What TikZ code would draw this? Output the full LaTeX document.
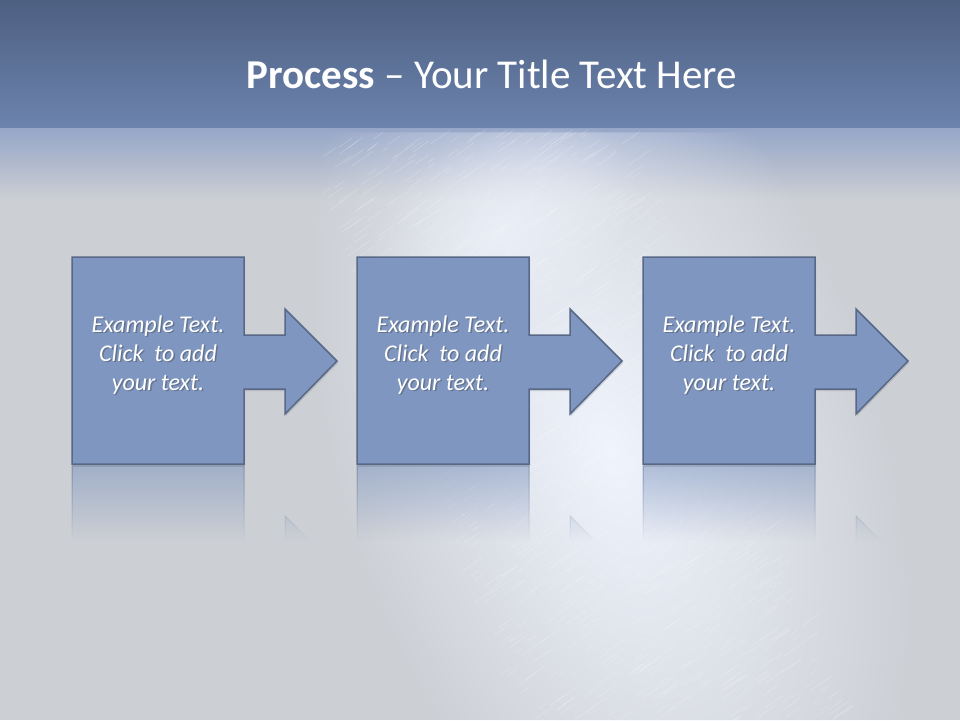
\documentclass[tikz,border=0pt]{standalone}
\usepackage{fontspec}
\setmainfont{Carlito}
\usetikzlibrary{shadows,fadings}

\definecolor{bandtop}{RGB}{78,96,130}
\definecolor{bandbot}{RGB}{108,131,173}
\definecolor{edgeblue}{RGB}{150,166,200}
\definecolor{floorgray}{RGB}{204,207,212}
\definecolor{sheen}{RGB}{240,244,253}
\definecolor{stepfill}{RGB}{127,150,192}
\definecolor{stepline}{RGB}{88,104,136}

\tikzfading[name=glow, inner color=transparent!0, outer color=transparent!100]
\tikzfading[name=reflectfade, top color=transparent!45, bottom color=transparent!100]

\tikzset{
  stepshape/.style={fill=stepfill, draw=stepline, line width=1.5pt,
    drop shadow={opacity=0.3, shadow xshift=1pt, shadow yshift=-2pt}},
  steptext/.style={text=white, align=center,
    font=\fontsize{24}{29}\selectfont\itshape},
  stepshade/.style={steptext, text=black!80, opacity=0.35},
  reflect/.style={fill=stepfill, draw=stepline, line width=1pt,
    path fading=reflectfade}
}

\begin{document}
\begin{tikzpicture}
\useasboundingbox (0,0) rectangle (960pt,-720pt);

  % backdrop
  \shade[top color=bandtop, bottom color=bandbot] (0,0) rectangle (960pt,-128pt);
  \fill[floorgray] (0,-128pt) rectangle (960pt,-720pt);
  \shade[top color=edgeblue, bottom color=floorgray] (0,-128pt) rectangle (960pt,-200pt);
  \fill[sheen, path fading=glow, fit fading=false,
        fading transform={shift={(610pt,-450pt)}, rotate=18, xscale=11, yscale=20}]
    (0,-128pt) rectangle (960pt,-720pt);
  \fill[sheen, opacity=0.7, path fading=glow, fit fading=false,
        fading transform={shift={(500pt,-230pt)}, rotate=30, xscale=6, yscale=4}]
    (0,-128pt) rectangle (960pt,-720pt);

  % brushed streaks
  \begin{scope}
  \clip (0,-130pt) rectangle (960pt,-720pt);
  \pgfmathsetseed{11}
  \foreach \k in {1,...,900}{
    \pgfmathsetmacro\tt{rnd}
    \pgfmathsetmacro\sx{460+220*\tt+320*(rnd-0.5)}
    \pgfmathsetmacro\sy{-(135+590*\tt)}
    \pgfmathsetmacro\len{6+22*rnd}
    \draw[white, opacity=0.3, line width=0.4pt] (\sx pt,\sy pt) -- ++(35:\len pt);
  }
  \end{scope}

  % title
  \node[anchor=base, text=white] (title) at (492pt,-88pt)
    {\fontsize{41}{46}\selectfont\textbf{Process} – Your Title Text Here};

  % reflections
  \path[reflect] (72pt,-466pt) rectangle (244pt,-540pt)
                 (285pt,-516pt) -- (309pt,-540pt) -- (285pt,-540pt) -- cycle;
  \path[reflect] (357pt,-466pt) rectangle (529pt,-540pt)
                 (570pt,-516pt) -- (594pt,-540pt) -- (570pt,-540pt) -- cycle;
  \path[reflect] (643pt,-466pt) rectangle (815pt,-540pt)
                 (856pt,-516pt) -- (880pt,-540pt) -- (856pt,-540pt) -- cycle;

  % steps
  \draw[stepshape] (72pt,-257pt) -- (244pt,-257pt) -- (244pt,-335pt) -- (285pt,-335pt)
        -- (285pt,-309pt) -- (337pt,-361pt) -- (285pt,-414pt) -- (285pt,-389pt)
        -- (244pt,-389pt) -- (244pt,-464pt) -- (72pt,-464pt) -- cycle;
  \draw[stepshape] (357pt,-257pt) -- (529pt,-257pt) -- (529pt,-335pt) -- (570pt,-335pt)
        -- (570pt,-309pt) -- (622pt,-361pt) -- (570pt,-414pt) -- (570pt,-389pt)
        -- (529pt,-389pt) -- (529pt,-464pt) -- (357pt,-464pt) -- cycle;
  \draw[stepshape] (643pt,-257pt) -- (815pt,-257pt) -- (815pt,-335pt) -- (856pt,-335pt)
        -- (856pt,-309pt) -- (908pt,-361pt) -- (856pt,-414pt) -- (856pt,-389pt)
        -- (815pt,-389pt) -- (815pt,-464pt) -- (643pt,-464pt) -- cycle;

  \node[stepshade] (step1s) at (159.5pt,-356.5pt) {Example Text.\\Click\ \ to add\\your text.};
  \node[steptext]  (step1)  at (158pt,-355pt)     {Example Text.\\Click\ \ to add\\your text.};
  \node[stepshade] (step2s) at (444.5pt,-356.5pt) {Example Text.\\Click\ \ to add\\your text.};
  \node[steptext]  (step2)  at (443pt,-355pt)     {Example Text.\\Click\ \ to add\\your text.};
  \node[stepshade] (step3s) at (730.5pt,-356.5pt) {Example Text.\\Click\ \ to add\\your text.};
  \node[steptext]  (step3)  at (729pt,-355pt)     {Example Text.\\Click\ \ to add\\your text.};

\end{tikzpicture}
\end{document}
